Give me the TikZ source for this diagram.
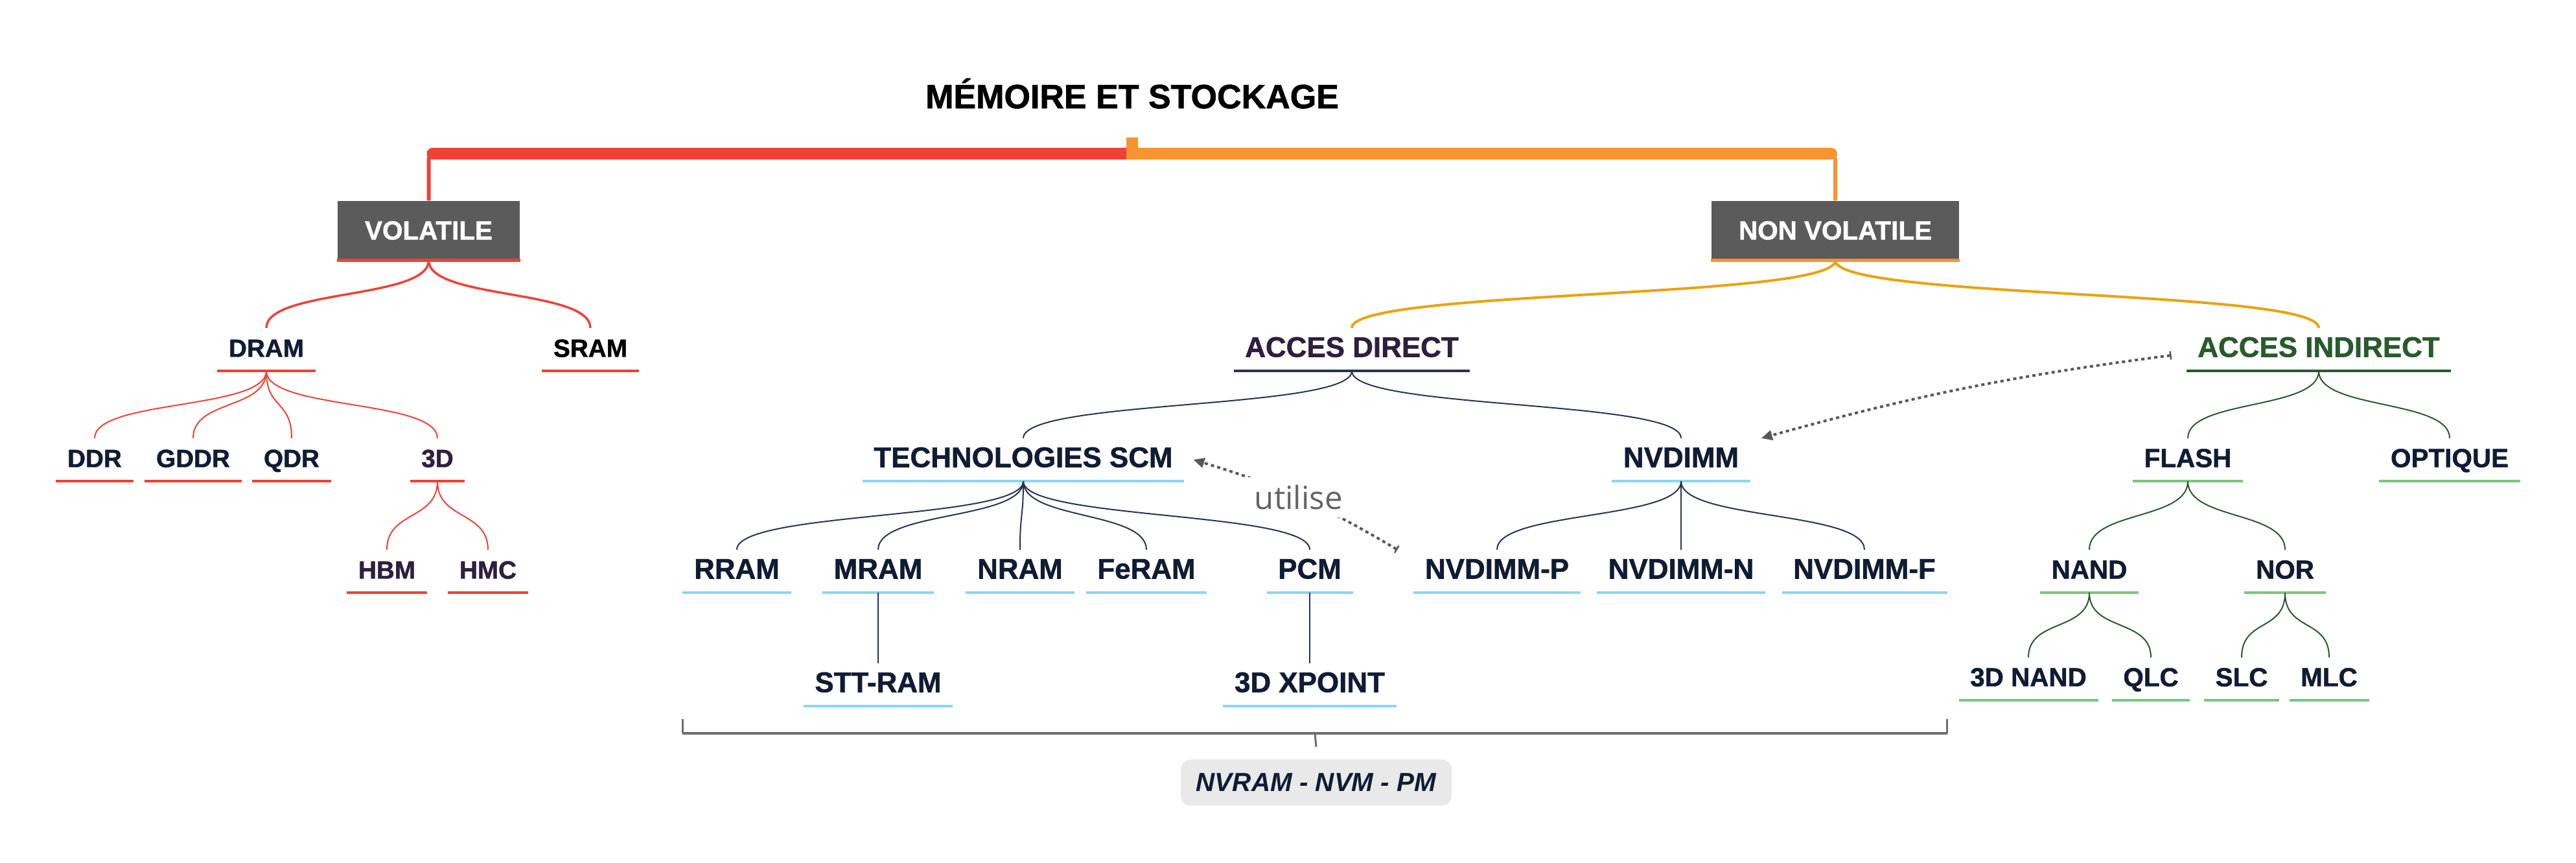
\documentclass[tikz,border=0pt]{standalone}
\usepackage{fontspec}
\setmainfont{Liberation Sans}[BoldFeatures={FakeBold=1.2}]
\newfontfamily\utfont{Open Sans}
\usetikzlibrary{arrows.meta,calc}

\definecolor{redc}{RGB}{239,65,54}
\definecolor{orangec}{RGB}{247,148,45}
\definecolor{goldc}{RGB}{234,163,14}
\definecolor{boxgray}{RGB}{91,91,91}
\definecolor{navyt}{RGB}{16,28,52}
\definecolor{purplet}{RGB}{46,31,62}
\definecolor{navyl}{RGB}{38,52,84}
\definecolor{skyl}{RGB}{140,214,238}
\definecolor{greent}{RGB}{40,90,44}
\definecolor{greenl}{RGB}{124,196,126}
\definecolor{dotgray}{RGB}{88,88,88}
\definecolor{brkgray}{RGB}{110,110,110}
\definecolor{tagfill}{RGB}{233,233,233}
\definecolor{uttext}{RGB}{100,100,100}

\newcommand{\fs}[1]{\fontsize{#1}{#1}\selectfont}

\begin{document}
\begin{tikzpicture}[
    ul/.style={append after command={\pgfextra{\let\ulnode\tikzlastnode}
        (\ulnode.south west) edge[draw=#1, line width=0.45mm] (\ulnode.south east)}},
    leaf/.style={font=\bfseries\fs{11}, text=navyt, inner xsep=1.7mm, inner ysep=1.4mm,
        text height=3mm, text depth=0.7mm},
    rleaf/.style={leaf, ul=redc},
    bleaf/.style={leaf, font=\bfseries\fs{12.5}, ul=skyl},
    gleaf/.style={leaf, font=\bfseries\fs{11.5}, ul=greenl},
    box/.style={fill=boxgray, text=white, font=\bfseries\fs{11.5}, minimum height=9.1mm, inner xsep=4.2mm},
    kid/.style={out=-90, in=90, distance=#1},
    dep/.style={dotgray, line width=0.4mm, dash pattern=on 0.5mm off 0.5mm,
        {Bar[width=1.3mm,line width=0.25mm]}-{Triangle[length=1.7mm,width=1.5mm]}}
  ]
  \useasboundingbox (0,0) rectangle (39.75,13.31);

  % title and top bar
  \node[font=\bfseries\fs{14.8}, anchor=base] (root) at (17.47,11.64) {MÉMOIRE ET STOCKAGE};
  \coordinate (hub) at (17.47,10.94);
  \node[box, ul=redc] (vol) at (6.615,9.755) {VOLATILE};
  \node[box, ul=orangec] (nvol) at (28.32,9.755) {NON VOLATILE};

  \draw[redc, line width=0.6mm, rounded corners=1mm] (vol.north) |- (hub);
  \draw[redc, line width=1.8mm, line cap=round] ($(vol.north |- hub)+(0.06,0)$) -- (hub);
  \draw[orangec, line width=0.6mm, rounded corners=1mm] (hub) -| (nvol.north);
  \draw[orangec, line width=1.8mm, line cap=round] (hub) -- ($(nvol.north |- hub)+(-0.06,0)$);
  \draw[orangec, line width=1.8mm] ($(hub)+(0,-0.09)$) -- ++(0,0.34);

  % volatile
  \node[rleaf] (dram) at (4.11,7.92) {DRAM};
  \node[rleaf, text=black] (sram) at (9.11,7.92) {SRAM};
  \node[rleaf] (ddr) at (1.46,6.22) {DDR};
  \node[rleaf] (gddr) at (2.98,6.22) {GDDR};
  \node[rleaf] (qdr) at (4.50,6.22) {QDR};
  \node[rleaf, text=purplet] (d3) at (6.75,6.22) {3D};
  \node[rleaf, text=purplet] (hbm) at (5.97,4.50) {HBM};
  \node[rleaf, text=purplet] (hmc) at (7.53,4.50) {HMC};

  % non volatile
  \node[leaf, font=\bfseries\fs{12.5}, text=purplet, ul=navyl] (acd) at (20.86,7.92) {ACCES DIRECT};
  \node[leaf, font=\bfseries\fs{12.5}, text=greent, ul=greent] (aci) at (35.78,7.92) {ACCES INDIRECT};
  \node[bleaf] (scm) at (15.79,6.22) {TECHNOLOGIES SCM};
  \node[bleaf] (nvd) at (25.94,6.22) {NVDIMM};
  \node[bleaf] (rram) at (11.37,4.50) {RRAM};
  \node[bleaf] (mram) at (13.55,4.50) {MRAM};
  \node[bleaf] (nram) at (15.74,4.50) {NRAM};
  \node[bleaf] (feram) at (17.69,4.50) {FeRAM};
  \node[bleaf] (pcm) at (20.21,4.50) {PCM};
  \node[bleaf] (nvp) at (23.10,4.50) {NVDIMM-P};
  \node[bleaf] (nvn) at (25.94,4.50) {NVDIMM-N};
  \node[bleaf] (nvf) at (28.77,4.50) {NVDIMM-F};
  \node[bleaf] (stt) at (13.55,2.75) {STT-RAM};
  \node[bleaf] (xpt) at (20.21,2.75) {3D XPOINT};

  \node[gleaf] (flash) at (33.76,6.22) {FLASH};
  \node[gleaf] (opt) at (37.80,6.22) {OPTIQUE};
  \node[gleaf] (nand) at (32.24,4.50) {NAND};
  \node[gleaf] (nor) at (35.26,4.50) {NOR};
  \node[gleaf] (n3d) at (31.30,2.84) {3D NAND};
  \node[gleaf] (qlc) at (33.19,2.84) {QLC};
  \node[gleaf] (slc) at (34.59,2.84) {SLC};
  \node[gleaf] (mlc) at (35.94,2.84) {MLC};

  % tree links
  \foreach \x in {dram,sram} \draw[redc, line width=0.35mm] (vol.south) to[kid=0.6cm] (\x.north);
  \foreach \x in {ddr,gddr,qdr,d3} \draw[redc, line width=0.2mm] (dram.south) to[kid=0.6cm] (\x.north);
  \foreach \x in {hbm,hmc} \draw[redc, line width=0.2mm] (d3.south) to[kid=0.6cm] (\x.north);

  \foreach \x in {acd,aci} \draw[goldc, line width=0.4mm] (nvol.south) to[kid=0.6cm] (\x.north);
  \foreach \x in {scm,nvd} \draw[navyl, line width=0.2mm] (acd.south) to[kid=0.6cm] (\x.north);
  \foreach \x in {rram,mram,nram,feram,pcm} \draw[navyl, line width=0.2mm] (scm.south) to[kid=0.6cm] (\x.north);
  \foreach \x in {nvp,nvn,nvf} \draw[navyl, line width=0.2mm] (nvd.south) to[kid=0.6cm] (\x.north);
  \draw[navyl, line width=0.2mm] (mram.south) -- (stt.north);
  \draw[navyl, line width=0.2mm] (pcm.south) -- (xpt.north);

  \foreach \x in {flash,opt} \draw[greent, line width=0.2mm] (aci.south) to[kid=0.6cm] (\x.north);
  \foreach \x in {nand,nor} \draw[greent, line width=0.2mm] (flash.south) to[kid=0.6cm] (\x.north);
  \foreach \x in {n3d,qlc} \draw[greent, line width=0.2mm] (nand.south) to[kid=0.6cm] (\x.north);
  \foreach \x in {slc,mlc} \draw[greent, line width=0.2mm] (nor.south) to[kid=0.6cm] (\x.north);

  % dotted relations
  \draw[dep] ([xshift=-2.5mm]nvp.north west) to[bend right=7]
    node[fill=white, text=uttext, font=\utfont\fs{14}, inner sep=1.2mm] {utilise} ([xshift=1.4mm]scm.east);
  \draw[dep] ([xshift=-2.3mm,yshift=-0.9mm]aci.west) to[bend right=4] ([xshift=1.7mm]nvd.north east);

  % bracket
  \coordinate (bl) at (rram.west |- 0,2.00);
  \coordinate (br) at (nvf.east |- 0,2.00);
  \draw[brkgray, line width=0.45mm] (bl) -- (br);
  \draw[brkgray, line width=0.3mm] (bl) -- ++(0,0.22) (br) -- ++(0,0.22);
  \node[fill=tagfill, rounded corners=1.5mm, minimum width=4.18cm, minimum height=7.1mm,
    font=\bfseries\itshape\fs{11.5}, text=navyt] (tag) at (20.31,1.24) {NVRAM - NVM - PM};
  \draw[brkgray, line width=0.3mm] ($(bl)!0.5!(br)$) -- ([yshift=1.9mm]tag.north);
\end{tikzpicture}
\end{document}
